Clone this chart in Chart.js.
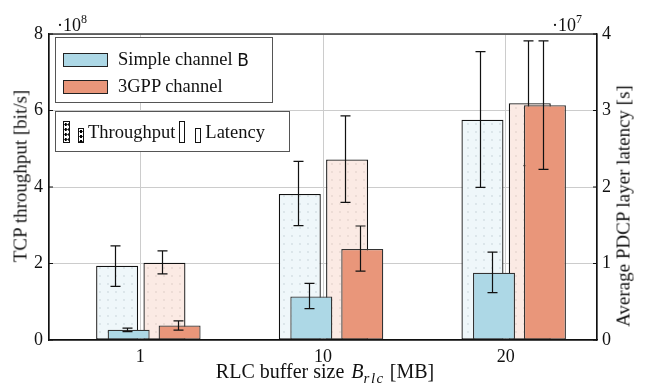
<!DOCTYPE html>
<html>
<head>
<meta charset="utf-8">
<script src="https://cdn.jsdelivr.net/npm/chart.js@4.4.0/dist/chart.umd.min.js"></script>
<style>
  body { margin: 0; background: #fff; }
  #wrap { position: relative; width: 647px; height: 385px; font-family: 'Liberation Serif', 'DejaVu Serif', serif; color: #111; }
  .lbl { position: absolute; white-space: nowrap; line-height: 1; font-size: 19px; }
  .rot { transform: translate(-50%, -50%) rotate(-90deg); }
  .legend { position: absolute; background: #fff; border: 1.3px solid #555; box-sizing: border-box; font-size: 18.5px; }
  .row { position: absolute; left: 7px; display: flex; align-items: center; white-space: nowrap; }
  .sw { display: inline-block; width: 45px; height: 14px; border: 1.2px solid #222; box-sizing: border-box; margin-right: 10px; }
  .dots { display: inline-block; border: 1px solid #111; box-sizing: border-box; background-color: #fff;
          background-image: radial-gradient(circle, #000 1.2px, transparent 1.6px); background-size: 3.5px 5px; }
  .empty { display: inline-block; border: 1px solid #111; box-sizing: border-box; background: #fff; }
  sup { font-size: 12px; vertical-align: 8px; }
</style>
</head>
<body>
<div id="wrap">
  <canvas id="chart"></canvas>
  <div class="lbl" style="left:57px; top:13px; font-size:18px;">·10<sup>8</sup></div>
  <div class="lbl" style="left:552px; top:13px; font-size:18px;">·10<sup>7</sup></div>
  <div class="lbl rot" style="left:20px; top:176px;">TCP throughput [bit/s]</div>
  <div class="lbl rot" style="left:623px; top:206px;">Average PDCP layer latency [s]</div>
  <div class="lbl" style="left:325px; top:373px; font-size:20px; transform: translate(-50%, -50%);">RLC buffer size <i style="margin-left:2px">B</i><sub style="font-size:15px; letter-spacing:1.5px"><i>rlc</i></sub> [MB]</div>

  <div class="legend" style="left:55px; top:37px; width:218px; height:66px;">
    <div class="row" style="top:11px;"><span class="sw" style="background:#add8e6"></span>Simple channel&nbsp;<span style="font-family:'DejaVu Sans'; font-size:17px;">B</span></div>
    <div class="row" style="top:38px;"><span class="sw" style="background:#e9967a"></span>3GPP channel</div>
  </div>
  <div class="legend" style="left:55px; top:111px; width:235px; height:41px;">
    <div class="row" style="top:5px; height:26px; align-items:flex-end;">
      <span class="dots" style="width:7px; height:22px; margin-right:8px;"></span>
      <span class="dots" style="width:6px; height:15px; margin-right:4px;"></span>
      <span style="margin-right:4px;">Throughput</span>
      <span class="empty" style="width:6px; height:22px; margin-right:10px;"></span>
      <span class="empty" style="width:6px; height:15px; margin-right:4px;"></span>
      <span>Latency</span>
    </div>
  </div>
</div>
<script>
const categories = ['1', '10', '20'];

// throughput in 10^8 bit/s
const throughputSimple = [1.94, 3.82, 5.76];
const throughputSimpleLow = [1.40, 2.99, 3.99];
const throughputSimpleHigh = [2.46, 4.67, 7.54];
const throughput3gpp = [2.02, 4.72, 6.19];
const throughput3gppLow = [1.73, 3.60, 4.56];
const throughput3gppHigh = [2.33, 5.86, 7.82];

// latency in 10^7 s
const latencySimple = [0.135, 0.57, 0.88];
const latencySimpleLow = [0.11, 0.41, 0.62];
const latencySimpleHigh = [0.155, 0.74, 1.15];
const latency3gpp = [0.19, 1.19, 3.07];
const latency3gppLow = [0.13, 0.90, 2.23];
const latency3gppHigh = [0.25, 1.49, 3.91];

const leftTicks = [0, 2, 4, 6, 8];
const rightTicks = [0, 1, 2, 3, 4];

const blue = '#add8e6';
const salmon = '#e9967a';
const serif = 'Liberation Serif';

// light fill with a grid of faint dots for the throughput bars
function dotPattern(fill, dot) {
  const c = document.createElement('canvas');
  c.width = 8; c.height = 8;
  const g = c.getContext('2d');
  g.fillStyle = fill;
  g.fillRect(0, 0, 8, 8);
  g.fillStyle = dot;
  g.beginPath();
  g.arc(4, 4, 0.9, 0, Math.PI * 2);
  g.fill();
  return g.createPattern(c, 'repeat');
}

// shift of each bar from its category, in category units
function place(values, shift) {
  return values.map((v, i) => ({ x: i + shift, y: v }));
}

const errorBars = {
  id: 'errorBars',
  afterDatasetDraw(chart, args) {
    const ds = chart.data.datasets[args.index];
    if (!ds.errLow) return;
    const yScale = chart.scales[ds.yAxisID];
    const ctx = chart.ctx;
    ctx.save();
    ctx.strokeStyle = '#111';
    ctx.lineWidth = 1.2;
    args.meta.data.forEach((bar, i) => {
      const lo = yScale.getPixelForValue(ds.errLow[i]);
      const hi = yScale.getPixelForValue(ds.errHigh[i]);
      const x = Math.round(bar.x) - 1.5;
      ctx.beginPath();
      ctx.moveTo(x, lo); ctx.lineTo(x, hi);
      ctx.moveTo(x - 5, lo); ctx.lineTo(x + 5, lo);
      ctx.moveTo(x - 5, hi); ctx.lineTo(x + 5, hi);
      ctx.stroke();
    });
    ctx.restore();
  }
};

const frame = {
  id: 'frame',
  afterDatasetsDraw(chart) {
    const { ctx, chartArea: a, scales } = chart;
    ctx.save();
    ctx.strokeStyle = '#111';
    ctx.lineWidth = 1.2;
    ctx.strokeRect(a.left, a.top, a.right - a.left, a.bottom - a.top);
    // inward tick marks like pgfplots
    ctx.beginPath();
    scales.y.ticks.forEach(t => {
      const y = scales.y.getPixelForValue(t.value);
      ctx.moveTo(a.left, y); ctx.lineTo(a.left + 4, y);
    });
    scales.y2.ticks.forEach(t => {
      const y = scales.y2.getPixelForValue(t.value);
      ctx.moveTo(a.right, y); ctx.lineTo(a.right - 4, y);
    });
    ctx.stroke();
    ctx.restore();
  }
};

const barBase = {
  grouped: false,
  barPercentage: 10,
  maxBarThickness: 42,
  borderWidth: 1.3,
  borderSkipped: false
};

new Chart(document.getElementById('chart'), {
  type: 'bar',
  data: {
    datasets: [
      { ...barBase, label: 'Latency simple', data: place(latencySimple, -0.064), yAxisID: 'y2', order: 1,
        backgroundColor: blue, borderColor: '#333', errLow: latencySimpleLow, errHigh: latencySimpleHigh },
      { ...barBase, label: 'Latency 3GPP', data: place(latency3gpp, 0.215), yAxisID: 'y2', order: 1,
        backgroundColor: salmon, borderColor: '#333', errLow: latency3gppLow, errHigh: latency3gppHigh },
      { ...barBase, label: 'Throughput simple', data: place(throughputSimple, -0.127), yAxisID: 'y', order: 2,
        backgroundColor: dotPattern('#eff7fa', '#d3dde2'), borderColor: '#111', errLow: throughputSimpleLow, errHigh: throughputSimpleHigh },
      { ...barBase, label: 'Throughput 3GPP', data: place(throughput3gpp, 0.132), yAxisID: 'y', order: 2,
        backgroundColor: dotPattern('#fbeae4', '#e6d5cf'), borderColor: '#111', errLow: throughput3gppLow, errHigh: throughput3gppHigh }
    ]
  },
  options: {
    responsive: true,
    maintainAspectRatio: false,
    animation: false,
    layout: { padding: { top: 34, left: 0, right: 0, bottom: 0 } },
    plugins: { legend: { display: false }, tooltip: { enabled: false } },
    scales: {
      x: {
        type: 'linear',
        offset: false,
        min: -0.5,
        max: categories.length - 0.5,
        afterBuildTicks: s => { s.ticks = categories.map((_, i) => ({ value: i })); },
        ticks: { callback: v => categories[v], font: { family: serif, size: 18 }, color: '#111', padding: 6, maxRotation: 0 },
        grid: { color: '#cccccc', drawTicks: false, offset: false },
        border: { color: '#111', width: 1.2 },
        afterFit: s => { s.height = 45; }
      },
      y: {
        position: 'left',
        min: 0,
        max: 8,
        afterBuildTicks: s => { s.ticks = leftTicks.map(v => ({ value: v })); },
        ticks: { font: { family: serif, size: 18 }, color: '#111', padding: 6 },
        grid: { color: '#cccccc', drawTicks: false },
        border: { color: '#111', width: 1.2 },
        afterFit: s => { s.width = 49; }
      },
      y2: {
        position: 'right',
        min: 0,
        max: 4,
        afterBuildTicks: s => { s.ticks = rightTicks.map(v => ({ value: v })); },
        ticks: { font: { family: serif, size: 18 }, color: '#111', padding: 5 },
        grid: { drawOnChartArea: false, drawTicks: false },
        border: { color: '#111', width: 1.2 },
        afterFit: s => { s.width = 50; }
      }
    }
  },
  plugins: [errorBars, frame]
});
</script>
</body>
</html>
